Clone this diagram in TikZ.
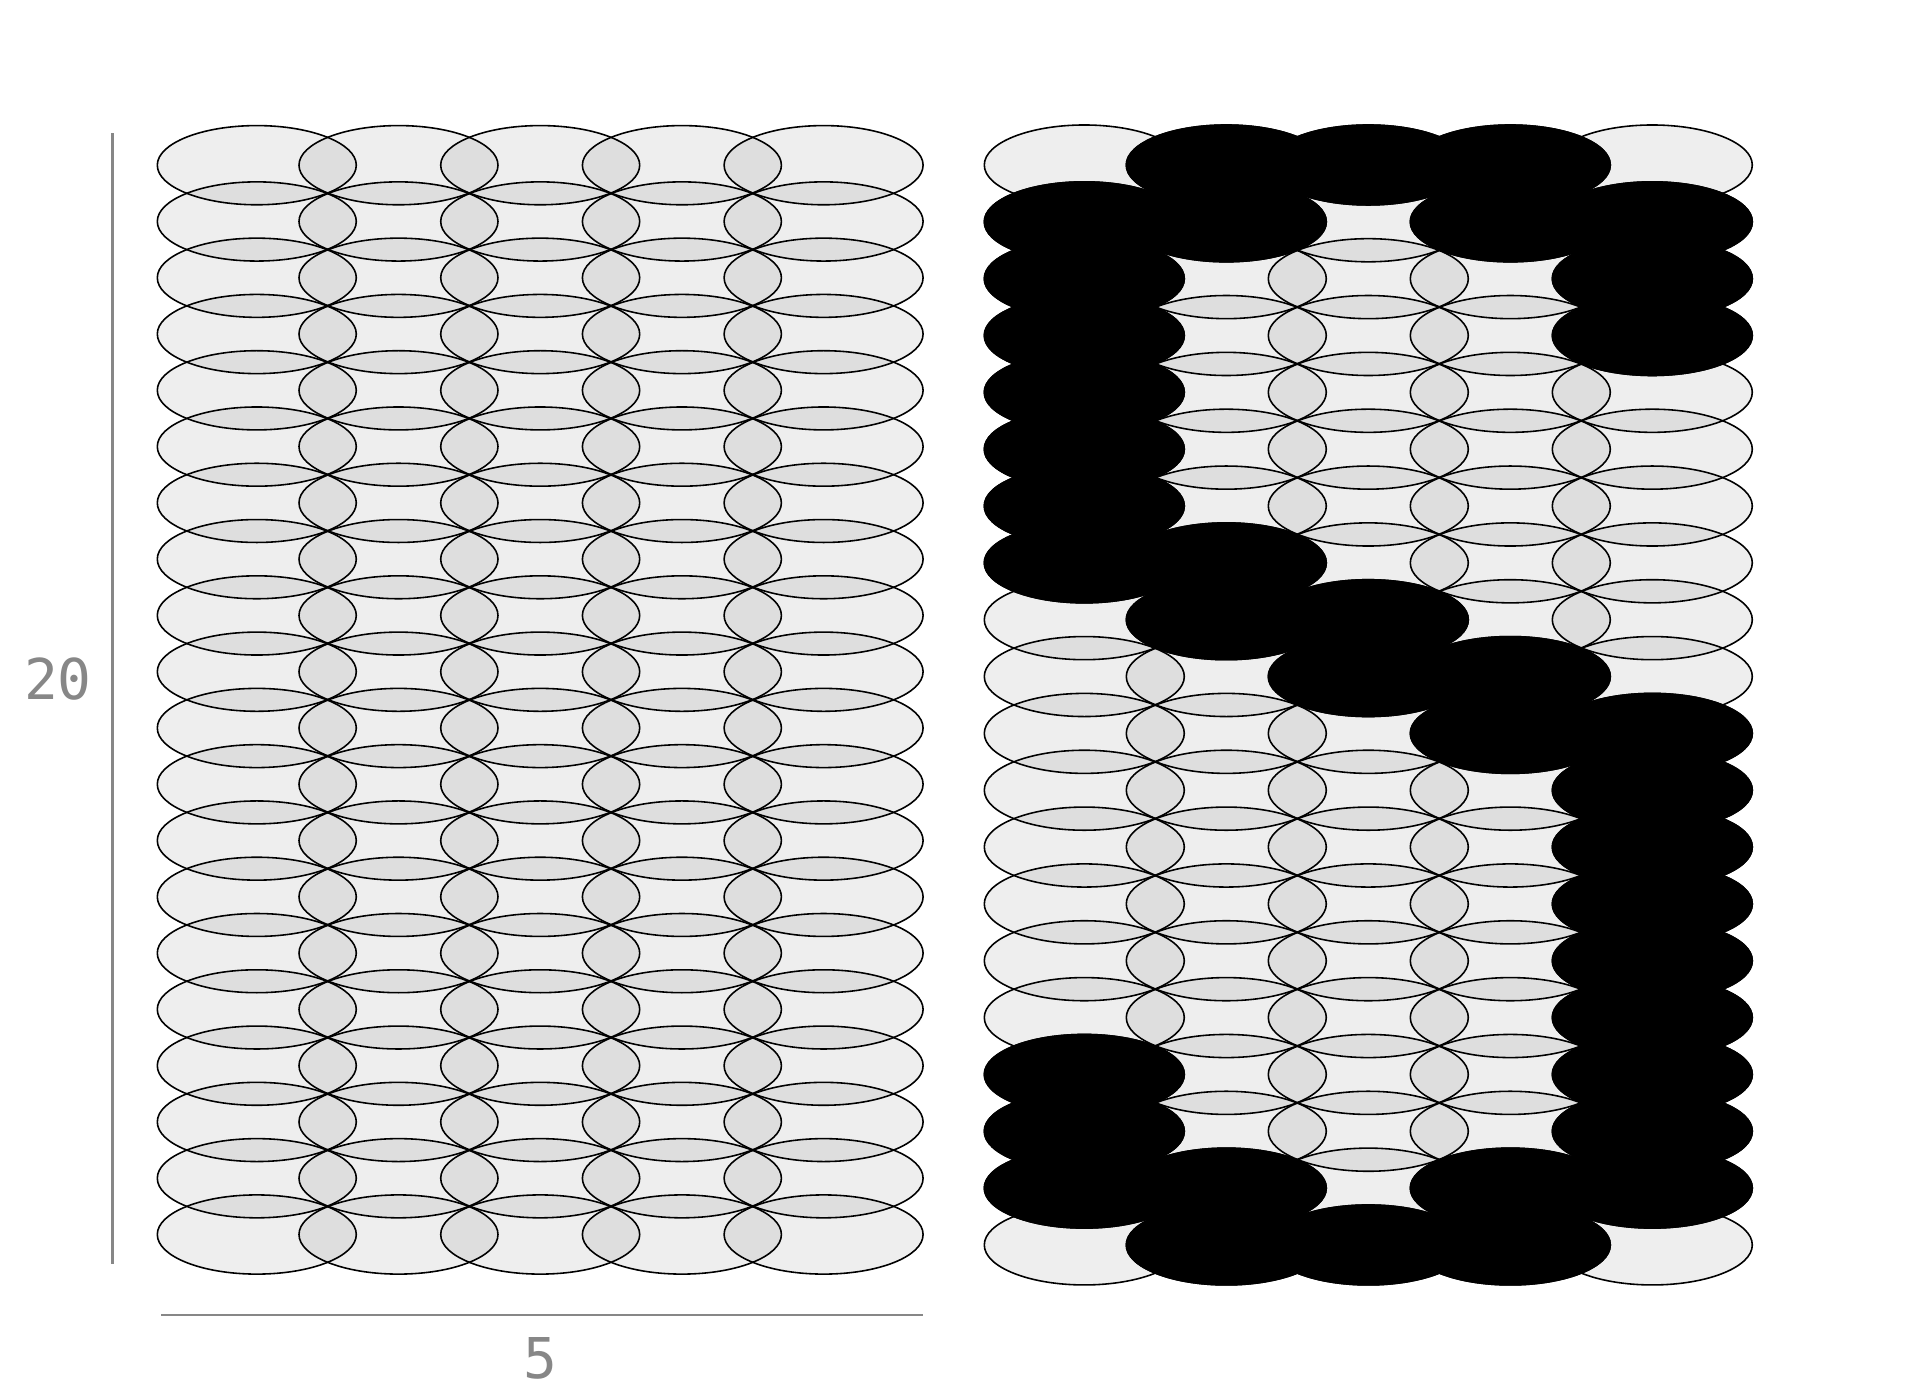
\documentclass[tikz,border=0pt]{standalone}
\usepackage{fontspec}
\newfontfamily\dimfont{DejaVu Sans Mono}
\definecolor{dimgray}{HTML}{878787}
\tikzset{
  cell/.style = {draw=black, line width=0.45pt, fill=black, fill opacity=0.065},
  inked/.style = {fill=black, draw=black, line width=0.45pt},
  dimline/.style = {draw=dimgray, line width=0.7pt},
  dimlabel/.style = {text=dimgray, inner sep=0pt, font=\dimfont\fontsize{16}{16}\selectfont}
}
\begin{document}
\begin{tikzpicture}[x=0.1mm, y=-0.1mm]
\useasboundingbox (0,0) rectangle (1920,1400);

% left grid, 20 rows of 5
\foreach \r in {1,...,20}
  \foreach \c in {1,...,5}
    \draw[cell] ({256.8+(\c-1)*141.7},{165.2+(\r-1)*56.28}) circle [x radius=99.5, y radius=39.6];

% right grid, same cells
\foreach \r in {1,...,20}
  \foreach \c in {1,...,5}
    \draw[cell] ({1084.3+(\c-1)*142},{165+(\r-1)*56.84}) circle [x radius=100, y radius=40];

% inked cells of the digit
\foreach \r/\c in {1/2,1/3,1/4, 2/1,2/2,2/4,2/5, 3/1,3/5, 4/1,4/5, 5/1, 6/1, 7/1, 8/1,8/2,
                   9/2,9/3, 10/3,10/4, 11/4,11/5, 12/5, 13/5, 14/5, 15/5, 16/5,
                   17/1,17/5, 18/1,18/5, 19/1,19/2,19/4,19/5, 20/2,20/3,20/4}
  \draw[inked] ({1084.3+(\c-1)*142},{165+(\r-1)*56.84}) circle [x radius=100, y radius=40];

% dimensions
\coordinate (vtop) at (112.6,133.5);
\coordinate (vbot) at (112.6,1264);
\coordinate (hleft) at (161,1315);
\coordinate (hright) at (923,1315);
\draw[dimline] (vtop) -- (vbot);
\draw[dimline] (hleft) -- (hright);
\node[dimlabel] (rows) at (58,679) {20};
\node[dimlabel] (cols) at (540,1358) {5};
\end{tikzpicture}
\end{document}
